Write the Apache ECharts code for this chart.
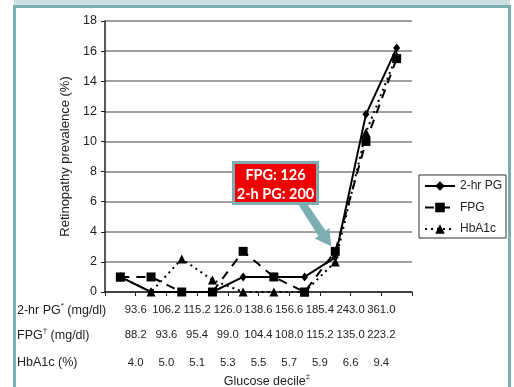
<!DOCTYPE html>
<html>
<head>
<meta charset="utf-8">
<script src="https://cdn.jsdelivr.net/npm/echarts@6/dist/echarts.min.js"></script>
<style>
html,body{margin:0;padding:0;background:#fff;}
#c{width:514px;height:387px;}
</style>
</head>
<body>
<div id="c"></div>
<script>
// ---- data ----
const deciles = ['1','2','3','4','5','6','7','8','9','10'];
const pg2hr = [1, 0, 0, 0, 1, 1, 1, 2.3, 11.8, 16.2];
const fpg   = [1, 1, 0, 0, 2.7, 1, 0, 2.7, 10.0, 15.5];
const hba1c = [1, 0, 2.2, 0.8, 0, 0, 0, 2.0, 10.6, 15.7];
const yTicks = [0, 2, 4, 6, 8, 10, 12, 14, 16, 18];
const cutPG2hr = ['93.6','106.2','115.2','126.0','138.6','156.6','185.4','243.0','361.0'];
const cutFPG   = ['88.2','93.6','95.4','99.0','104.4','108.0','115.2','135.0','223.2'];
const cutHbA1c = ['4.0','5.0','5.1','5.3','5.5','5.7','5.9','6.6','9.4'];
const seriesNames = ['2-hr PG', 'FPG', 'HbA1c'];
const calloutLines = ['FPG: 126', '2-h PG: 200'];
const calloutDecileIndex = 7;

const FONT = 'Liberation Sans, Arial, sans-serif';
const chart = echarts.init(document.getElementById('c'));

function cutAxis(arr, offset, margin) {
  return {
    type: 'value', gridIndex: 0, min: 0, max: 10, interval: 1, position: 'bottom', offset: offset,
    axisLine: {show: false}, axisTick: {show: false}, splitLine: {show: false},
    axisLabel: {
      margin: margin, fontFamily: FONT, fontSize: 11.3, color: '#222',
      showMinLabel: false, showMaxLabel: false, hideOverlap: false,
      formatter: v => (v >= 1 && v <= arr.length) ? arr[v - 1] : ''
    }
  };
}

const option = {
  animation: false,
  backgroundColor: '#fff',
  grid: {left: 105, right: 102, top: 21, bottom: 95},
  legend: {
    orient: 'vertical', left: 419, top: 175,
    padding: [5, 4, 3, 5], itemGap: 9.5, itemWidth: 30, itemHeight: 12,
    borderColor: '#333', borderWidth: 1, backgroundColor: '#fff',
    textStyle: {fontFamily: FONT, fontSize: 12, color: '#222'},
    data: seriesNames
  },
  xAxis: [
    {
      type: 'category', data: deciles, boundaryGap: true,
      axisLine: {lineStyle: {color: '#222', width: 1.5}},
      axisTick: {show: true, length: 4, inside: false, lineStyle: {color: '#222', width: 1}},
      axisLabel: {show: false}, splitLine: {show: false}
    },
    cutAxis(cutPG2hr, 0, 12),
    cutAxis(cutFPG, 25, 12),
    cutAxis(cutHbA1c, 53, 12)
  ],
  yAxis: {
    type: 'value', min: 0, max: 18, interval: 2,
    name: 'Retinopathy prevalence (%)', nameLocation: 'middle', nameGap: 30,
    nameTextStyle: {fontFamily: FONT, fontSize: 13, color: '#222'},
    axisLine: {show: true, lineStyle: {color: '#222', width: 1.5}},
    axisTick: {show: true, length: 4, lineStyle: {color: '#222'}},
    axisLabel: {margin: 8, fontFamily: FONT, fontSize: 12.5, color: '#222',
      formatter: v => yTicks.includes(v) ? String(v) : ''},
    splitLine: {show: true, lineStyle: {color: '#7f7f7f', width: 1.5}}
  },
  series: [
    {
      name: 'HbA1c', type: 'line', data: hba1c, z: 2,
      symbol: 'triangle', symbolSize: 9,
      itemStyle: {color: '#000'},
      lineStyle: {color: '#000', width: 2, type: [2, 4]}
    },
    {
      name: '2-hr PG', type: 'line', data: pg2hr, z: 3,
      symbol: 'diamond', symbolSize: [7, 9],
      itemStyle: {color: '#000'},
      lineStyle: {color: '#000', width: 2, type: 'solid'}
    },
    {
      name: 'FPG', type: 'line', data: fpg, z: 4,
      symbol: 'rect', symbolSize: 9,
      itemStyle: {color: '#000'},
      lineStyle: {color: '#000', width: 2, type: [9, 7]}
    }
  ]
};
chart.setOption(option);

// ---- annotations / frame ----
const tipData = chart.convertToPixel({xAxisIndex: 0, yAxisIndex: 0}, [calloutDecileIndex, fpg[calloutDecileIndex]]);
const T = [tipData[0] - 4, tipData[1] - 5];
const S = [302, 205];
const len = Math.hypot(T[0] - S[0], T[1] - S[1]);
const u = [(T[0] - S[0]) / len, (T[1] - S[1]) / len];
const n = [u[1], -u[0]];
const H = [T[0] - 16 * u[0], T[1] - 16 * u[1]];
const arrowPts = [
  [297.5, 203], [306.5, 203],
  [H[0] + 4.5 * n[0], H[1] + 4.5 * n[1]],
  [H[0] + 9 * n[0], H[1] + 9 * n[1]],
  T,
  [H[0] - 9 * n[0], H[1] - 9 * n[1]],
  [H[0] - 4.5 * n[0], H[1] - 4.5 * n[1]]
];

const supRich = {
  n: {fontFamily: FONT, fontSize: 12.5, fill: '#222', lineHeight: 15, verticalAlign: 'bottom'},
  s: {fontFamily: FONT, fontSize: 8, fill: '#222', lineHeight: 15, verticalAlign: 'top'}
};

chart.setOption({
  graphic: [
    {type: 'rect', silent: true, z: 100, shape: {x: 14, y: 0, width: 496, height: 5}, style: {fill: '#cfdfe1'}},
    {type: 'rect', silent: true, z: 100, shape: {x: 14.5, y: 6.5, width: 495, height: 420}, style: {fill: null, stroke: '#7aaeb0', lineWidth: 3}},
    {type: 'text', silent: true, z: 100, left: 17, top: 302, style: {text: '{n|2-hr PG}{s|*}{n| (mg/dl)}', rich: supRich}},
    {type: 'text', silent: true, z: 100, left: 17, top: 327, style: {text: '{n|FPG}{s|\u2020}{n| (mg/dl)}', rich: supRich}},
    {type: 'text', silent: true, z: 100, left: 17, top: 356, style: {text: '{n|HbA1c (%)}', rich: supRich}},
    {type: 'text', silent: true, z: 100, x: 267, y: 373, style: {text: '{n|Glucose decile}{s|\u2021}', rich: supRich, align: 'center'}},
    {type: 'polygon', silent: true, z: 101, shape: {points: arrowPts}, style: {fill: '#7aaeb0'}},
    {type: 'rect', silent: true, z: 102, shape: {x: 233.5, y: 162.5, width: 84, height: 41}, style: {fill: '#f00000', stroke: '#7aaeb0', lineWidth: 3}},
    {type: 'text', silent: true, z: 103, x: 275.5, y: 166, style: {
      text: calloutLines.join('\n'), align: 'center', fill: '#fff',
      fontFamily: 'Lato, Open Sans, sans-serif', fontWeight: 'bold', fontSize: 14.5, lineHeight: 19}}
  ]
});
</script>
</body>
</html>
